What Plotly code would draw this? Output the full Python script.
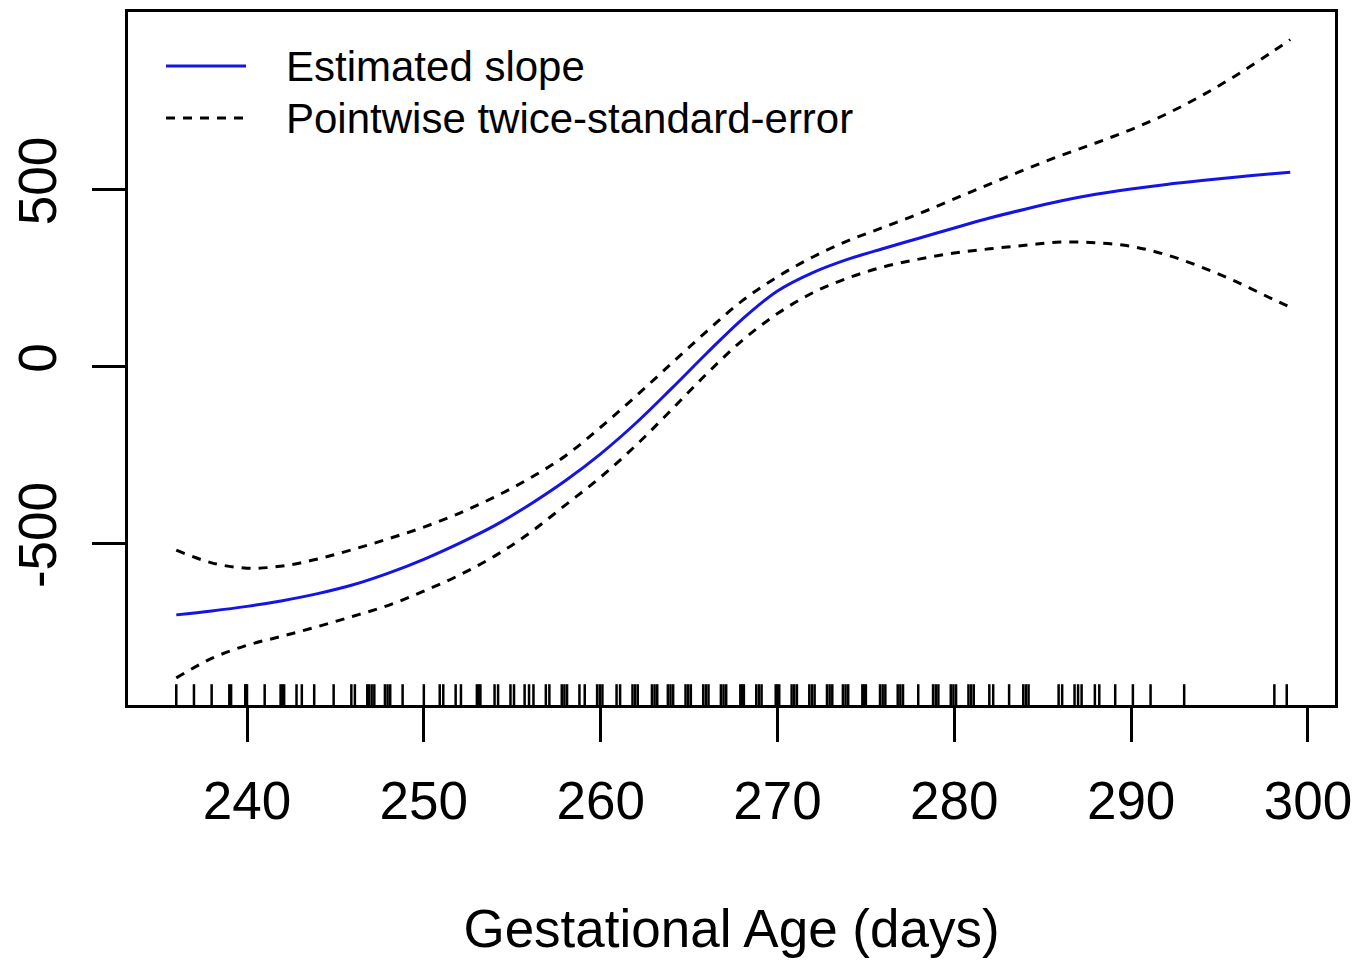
import plotly.graph_objects as go

# Estimated slope of the fitted curve against gestational age (days)
slope_days = [236, 238, 240, 242, 244, 246, 248, 250, 252, 254, 256, 258, 260, 262, 264,
              266, 268, 270, 272, 274, 276, 278, 280, 282, 284, 286, 288, 290, 292, 294,
              296, 298, 299]
slope_vals = [-703, -692, -679, -663, -643, -618, -585, -546, -501, -451, -391, -324, -248,
              -161, -64, 36, 132, 212, 264, 302, 332, 361, 390, 418, 443, 466, 485, 500,
              513, 524, 534, 543, 547]

# Pointwise twice-standard-error bands
upper_days = slope_days
upper_vals = [-520, -556, -571, -565, -545, -518, -488, -455, -416, -370, -317, -254, -173,
              -85, 7, 98, 184, 252, 308, 354, 392, 430, 472, 514, 555, 594, 630, 668, 712,
              764, 823, 888, 922]

lower_days = slope_days
lower_vals = [-881, -826, -789, -763, -736, -707, -676, -636, -591, -537, -471, -393, -314,
              -224, -124, -22, 72, 148, 207, 249, 280, 302, 319, 331, 341, 350, 348, 338,
              314, 279, 237, 189, 166]

# Observed gestational ages (jittered), shown as a rug along the bottom
rug_days = [236.0, 237.0, 238.0, 239.0, 239.1, 239.9, 239.95, 240.0, 241.0, 241.9, 242.0,
            242.1, 242.8, 243.1, 243.8, 244.9, 245.9, 246.1, 246.8, 246.9, 247.05, 247.2,
            247.8, 247.95, 248.1, 248.8, 250.0, 250.9, 251.1, 251.8, 252.1, 253.0, 253.1,
            253.2, 254.0, 254.2, 254.9, 255.1, 255.7, 255.95, 256.2, 256.9, 257.1, 257.8,
            257.95, 258.1, 258.8, 259.1, 259.8, 259.95, 260.1, 260.9, 261.1, 261.8, 261.95,
            262.1, 262.9, 263.05, 263.2, 263.8, 263.95, 264.1, 264.8, 264.95, 265.1, 265.8,
            265.95, 266.1, 266.8, 266.95, 267.1, 267.9, 268.0, 268.1, 268.8, 268.95, 269.1,
            269.9, 270.0, 270.1, 270.8, 270.95, 271.1, 271.8, 271.95, 272.1, 272.8, 272.95,
            273.1, 273.7, 273.85, 274.0, 274.8, 274.9, 275.0, 275.8, 275.95, 276.1, 276.8,
            276.95, 277.1, 277.96, 278.8, 278.95, 279.1, 279.8, 279.95, 280.1, 280.8, 280.95,
            281.1, 281.98, 282.2, 283.1, 283.9, 284.05, 284.2, 285.9, 286.1, 286.8, 287.0,
            287.2, 287.95, 288.2, 289.1, 290.1, 291.1, 293.0, 298.1, 298.8]

x_ticks = [240, 250, 260, 270, 280, 290, 300]
y_ticks = [-500, 0, 500]
x_range = [233.27, 301.53]
y_range = [-957.6, 1000]

legend_labels = ["Estimated slope", "Pointwise twice-standard-error"]

FONT = "Liberation Sans, Arial, Helvetica, sans-serif"
BLUE = "#1414e6"
DASH = "9px,8px"

fig = go.Figure()

# rug: short vertical ticks rising from the bottom of the panel
rug_len = (y_range[1] - y_range[0]) * 0.03
rx, ry = [], []
for d in rug_days:
    rx += [d, d, None]
    ry += [y_range[0], y_range[0] + rug_len, None]
fig.add_trace(go.Scatter(x=rx, y=ry, mode="lines",
                         line=dict(color="black", width=2.5), hoverinfo="skip"))

fig.add_trace(go.Scatter(x=upper_days, y=upper_vals, mode="lines",
                         line=dict(color="black", width=3, dash=DASH, shape="spline")))
fig.add_trace(go.Scatter(x=lower_days, y=lower_vals, mode="lines",
                         line=dict(color="black", width=3, dash=DASH, shape="spline")))
fig.add_trace(go.Scatter(x=slope_days, y=slope_vals, mode="lines",
                         line=dict(color=BLUE, width=3, shape="spline")))

# legend drawn inside the top-left of the panel
leg_rows = [0.922, 0.847]
leg_styles = [dict(color=BLUE, width=3), dict(color="black", width=3, dash=DASH)]
for yy, style, label in zip(leg_rows, leg_styles, legend_labels):
    fig.add_shape(type="line", xref="paper", yref="paper",
                  x0=0.0315, x1=0.0978, y0=yy, y1=yy, line=style)
    fig.add_annotation(xref="paper", yref="paper", x=0.1292, y=yy, text=label,
                       showarrow=False, xanchor="left", yanchor="middle",
                       font=dict(family=FONT, size=42, color="black"))

fig.update_layout(
    width=1367, height=960,
    margin=dict(l=128, r=32, t=12, b=255),
    plot_bgcolor="white", paper_bgcolor="white",
    showlegend=False,
    font=dict(family=FONT, color="black"),
)
fig.update_xaxes(
    range=x_range, tickvals=x_ticks, ticktext=[str(v) for v in x_ticks],
    ticks="outside", ticklen=34, tickwidth=3, tickcolor="black",
    showline=True, linewidth=3, linecolor="black", mirror=True,
    showgrid=False, zeroline=False, automargin=False,
    tickfont=dict(family=FONT, size=53, color="black"),
    ticklabelstandoff=13,
    title=dict(text="Gestational Age (days)", font=dict(family=FONT, size=53, color="black"),
               standoff=82),
)
fig.update_yaxes(
    range=y_range, tickvals=y_ticks, ticktext=[str(v) for v in y_ticks],
    ticks="outside", ticklen=33, tickwidth=3, tickcolor="black",
    showline=True, linewidth=3, linecolor="black", mirror=True,
    showgrid=False, zeroline=False, tickangle=-90, automargin=False,
    tickfont=dict(family=FONT, size=53, color="black"),
    ticklabelstandoff=15,
)

fig.write_html("out.html")
